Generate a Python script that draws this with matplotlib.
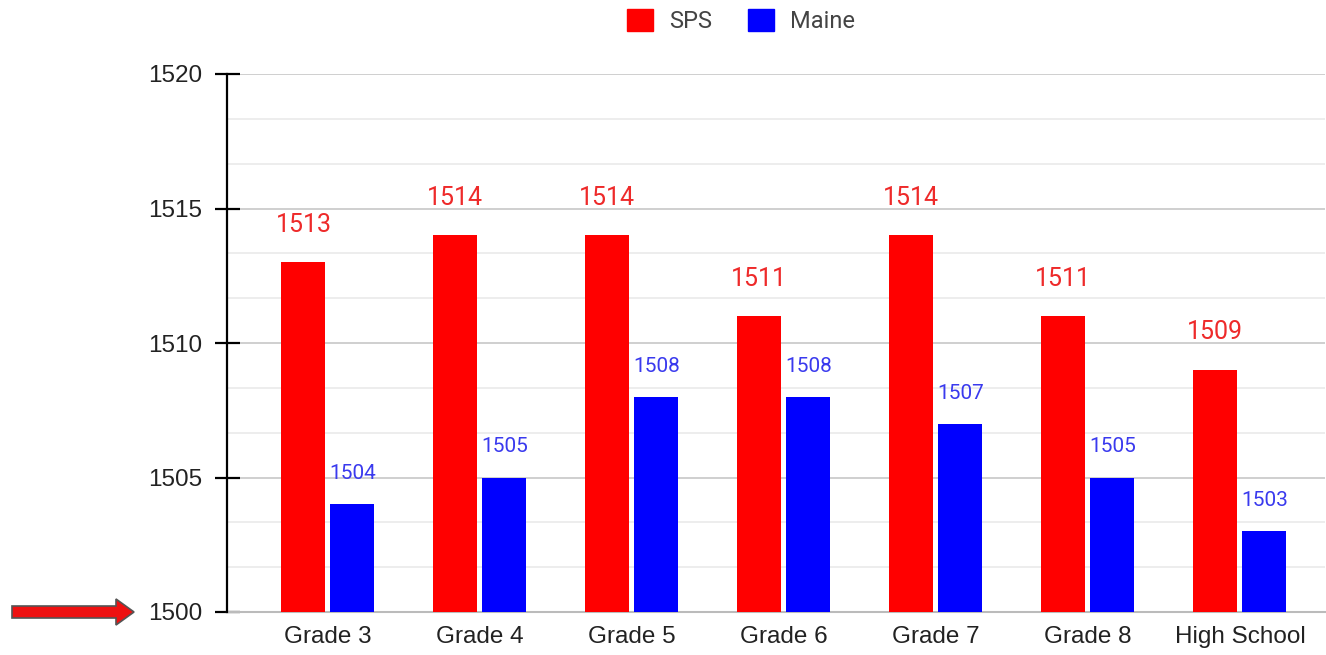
import matplotlib
matplotlib.use("Agg")
import matplotlib.pyplot as plt
import numpy as np
from matplotlib.patches import Patch, FancyArrow
from matplotlib.ticker import MultipleLocator

categories = ["Grade 3", "Grade 4", "Grade 5", "Grade 6", "Grade 7", "Grade 8", "High School"]
sps = [1513, 1514, 1514, 1511, 1514, 1511, 1509]
maine = [1504, 1505, 1508, 1508, 1507, 1505, 1503]
series_names = ["SPS", "Maine"]
yticks = [1500, 1505, 1510, 1515, 1520]

W, H = 1326, 655
fig = plt.figure(figsize=(W / 100, H / 100), dpi=100)
ax = fig.add_axes([227 / W, 1 - 612 / H, (1325 - 227) / W, (612 - 74) / H])

x = np.arange(len(categories))
bw = 0.29
off = 0.161
red, blue = "#ff0000", "#0000ff"
ax.bar(x - off, [v - 1500 for v in sps], bw, bottom=1500, color=red, zorder=3)
ax.bar(x + off, [v - 1500 for v in maine], bw, bottom=1500, color=blue, zorder=3)

for xi, v in zip(x, sps):
    ax.annotate(str(v), (xi - off, v), xytext=(0, 22), textcoords="offset points",
                ha="center", va="baseline", fontsize=18, color="#ee2a2a", family="Roboto")
for xi, v in zip(x, maine):
    ax.annotate(str(v), (xi + off, v), xytext=(0, 18), textcoords="offset points",
                ha="center", va="baseline", fontsize=15, color="#3a3aee", family="Roboto")

ax.set_ylim(1500, 1520)
ax.set_xlim(-0.664, 6.56)
ax.set_yticks(yticks)
ax.set_yticklabels([str(t) for t in yticks], fontsize=17.5, color="#222222", family="Liberation Sans")
ax.yaxis.set_minor_locator(MultipleLocator(5 / 3))
ax.tick_params(axis="y", which="major", direction="inout", length=18, width=1.6, pad=9, color="black")
ax.tick_params(axis="y", which="minor", length=0)
ax.set_xticks(x)
ax.set_xticklabels(categories, fontsize=17.5, color="#222222", family="Liberation Sans")
ax.tick_params(axis="x", length=0, pad=10)

ax.grid(True, axis="y", which="major", color="#cccccc", lw=1.3, zorder=0)
ax.grid(True, axis="y", which="minor", color="#e8e8e8", lw=1.1, zorder=0)
for s in ["top", "right"]:
    ax.spines[s].set_visible(False)
ax.spines["left"].set_color("black")
ax.spines["left"].set_linewidth(1.6)
ax.spines["bottom"].set_color("#bbbbbb")
ax.spines["bottom"].set_linewidth(1.5)
ax.spines["left"].set_zorder(4)

handles = [Patch(facecolor=red, edgecolor=red), Patch(facecolor=blue, edgecolor=blue)]
leg = fig.legend(handles, series_names, loc="center", bbox_to_anchor=(741 / W, 1 - 21 / H),
                 ncol=2, frameon=False, handlelength=1.1, handleheight=1.1,
                 handletextpad=0.7, columnspacing=1.5, prop={"family": "Roboto", "size": 17})
for t in leg.get_texts():
    t.set_color("#444444")

# red arrow pointing at the 1500 baseline
arr = FancyArrow(12 / W, 1 - 612 / H, (134 - 12) / W, 0, width=12 / H,
                 head_width=26 / H, head_length=18 / W, length_includes_head=True,
                 transform=fig.transFigure, facecolor="#ee1111", edgecolor="#555555", lw=1.2)
fig.patches.append(arr)

fig.savefig("out.png", dpi=100)
